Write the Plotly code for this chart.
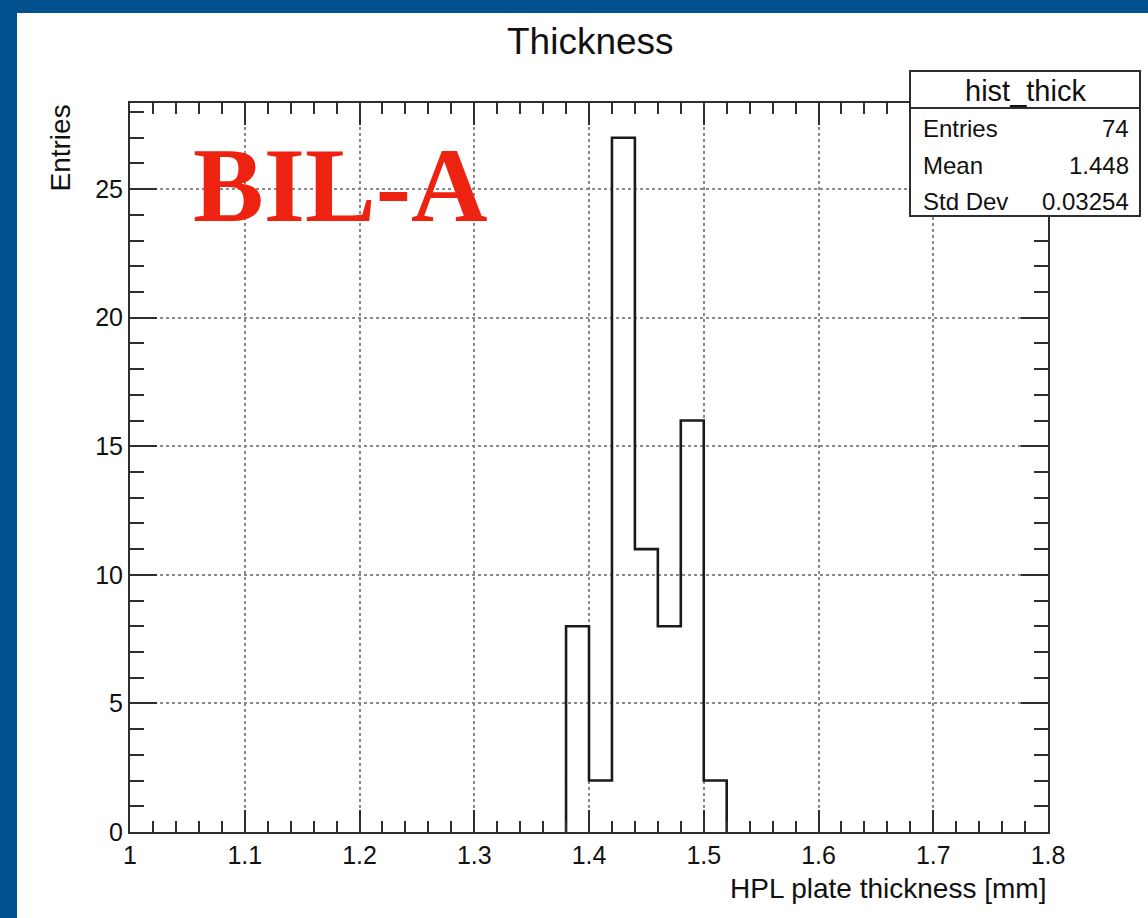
import plotly.graph_objects as go

# Histogram contents: lower bin edges, common width and entries per bin
bin_low = [1.38, 1.40, 1.42, 1.44, 1.46, 1.48, 1.50]
bin_width = 0.02
counts = [8, 2, 27, 11, 8, 16, 2]

x_range = [1.0, 1.8]
y_top = max(counts) * 1.05

x_ticks = [1.0, 1.1, 1.2, 1.3, 1.4, 1.5, 1.6, 1.7, 1.8]
x_tick_labels = ["1", "1.1", "1.2", "1.3", "1.4", "1.5", "1.6", "1.7", "1.8"]
y_ticks = [0, 5, 10, 15, 20, 25]
y_tick_labels = ["0", "5", "10", "15", "20", "25"]

stat_names = ["Entries", "Mean", "Std Dev"]
stat_values = ["74", "1.448", "0.03254"]

W, H = 1148, 918
L, R, T, B = 130, 1048, 103, 832  # frame edges in pixels

def px(x):
    return (x - L) / (R - L)

def py(y):
    return (B - y) / (B - T)

SANS = "Liberation Sans, Arial, Helvetica, sans-serif"
INK = "#111111"
AXIS = "#2e2e2e"

# Outline of the histogram drawn as a step line
step_x = [bin_low[0]] + bin_low + [bin_low[-1] + bin_width]
step_y = [0] + counts + [0]

fig = go.Figure()
fig.add_trace(go.Scatter(
    x=step_x, y=step_y, mode="lines", line_shape="hv",
    line=dict(color="#1a1a1a", width=2.6), hoverinfo="skip", showlegend=False,
))

axis_common = dict(
    showline=True, linecolor=AXIS, linewidth=2, mirror="allticks",
    ticks="inside", tickcolor=AXIS, tickwidth=2,
    showgrid=True, gridcolor="#8a8a8a", gridwidth=1.5, griddash="dot",
    zeroline=False, tickfont=dict(family=SANS, size=25, color=INK),
)

fig.update_xaxes(
    range=x_range, tickvals=x_ticks, ticktext=x_tick_labels,
    ticklen=22, ticklabelstandoff=0,
    minor=dict(dtick=0.02, ticks="inside", ticklen=11, tickcolor=AXIS,
               tickwidth=2, showgrid=False),
    **axis_common,
)
fig.update_yaxes(
    range=[0, y_top], tickvals=y_ticks, ticktext=y_tick_labels,
    ticklen=27,
    minor=dict(dtick=1, ticks="inside", ticklen=14, tickcolor=AXIS,
               tickwidth=2, showgrid=False),
    **axis_common,
)

shapes = [
    # blue slide border on the left and top edges
    dict(type="rect", xref="paper", yref="paper", layer="below",
         x0=px(0), x1=px(17), y0=py(W), y1=py(0),
         fillcolor="#03528f", line=dict(width=0)),
    dict(type="rect", xref="paper", yref="paper", layer="below",
         x0=px(0), x1=px(W), y0=py(13), y1=py(0),
         fillcolor="#03528f", line=dict(width=0)),
    # statistics box
    dict(type="rect", xref="paper", yref="paper", layer="above",
         x0=px(910), x1=px(1140), y0=py(216), y1=py(71),
         fillcolor="white", line=dict(color=AXIS, width=2)),
    dict(type="line", xref="paper", yref="paper", layer="above",
         x0=px(910), x1=px(1140), y0=py(108), y1=py(108),
         line=dict(color=AXIS, width=2)),
]

annotations = [
    dict(text="Thickness", x=px(590), y=py(42), xref="paper", yref="paper",
         showarrow=False, xanchor="center", yanchor="middle",
         font=dict(family=SANS, size=37, color=INK)),
    dict(text="Entries", x=px(60), y=py(103), xref="paper", yref="paper",
         showarrow=False, textangle=-90, xanchor="center", yanchor="top",
         font=dict(family=SANS, size=28, color=INK)),
    dict(text="HPL plate thickness [mm]", x=px(1048), y=py(888),
         xref="paper", yref="paper", showarrow=False,
         xanchor="right", yanchor="middle",
         font=dict(family=SANS, size=28, color=INK)),
    dict(text="<b>BIL-A</b>", x=px(340), y=py(185), xref="paper", yref="paper",
         showarrow=False, xanchor="center", yanchor="middle",
         font=dict(family="Liberation Serif, Times New Roman, serif",
                   size=106, color="#ee2210")),
    dict(text="hist_thick", x=px(1025), y=py(91), xref="paper", yref="paper",
         showarrow=False, xanchor="center", yanchor="middle",
         font=dict(family=SANS, size=29, color=INK)),
]

row_y = [128, 165, 201]
for name, value, yy in zip(stat_names, stat_values, row_y):
    annotations.append(dict(
        text=name, x=px(921), y=py(yy), xref="paper", yref="paper",
        showarrow=False, xanchor="left", yanchor="middle",
        font=dict(family=SANS, size=24, color=INK)))
    annotations.append(dict(
        text=value, x=px(1131), y=py(yy), xref="paper", yref="paper",
        showarrow=False, xanchor="right", yanchor="middle",
        font=dict(family=SANS, size=24, color=INK)))

fig.update_layout(
    width=W, height=H, autosize=False,
    margin=dict(l=L, r=W - R, t=T, b=H - B, pad=0),
    paper_bgcolor="white", plot_bgcolor="white",
    shapes=shapes, annotations=annotations, showlegend=False,
)

fig.write_html("out.html")
